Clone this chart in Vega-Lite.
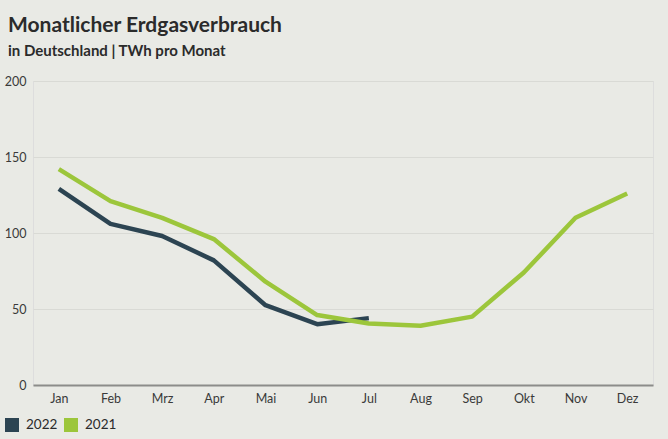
{
  "$schema": "https://vega.github.io/schema/vega-lite/v6.json",
  "width": 620,
  "height": 304,
  "autosize": {"type": "none"},
  "padding": {"left": 33, "top": 81, "right": 15, "bottom": 54},
  "background": "#e9eae5",
  "title": {
    "text": "Monatlicher Erdgasverbrauch",
    "subtitle": "in Deutschland | TWh pro Monat",
    "anchor": "start",
    "frame": "group",
    "dx": -25,
    "offset": 16,
    "font": "Lato",
    "fontSize": 21,
    "fontWeight": "bold",
    "color": "#2b2b2b",
    "subtitleFont": "Lato",
    "subtitleFontSize": 15,
    "subtitleFontWeight": "bold",
    "subtitleColor": "#2b2b2b",
    "subtitlePadding": 8
  },
  "data": {
    "values": [
      {"month": "Jan", "year": "2022", "value": 129},
      {"month": "Feb", "year": "2022", "value": 106},
      {"month": "Mrz", "year": "2022", "value": 98},
      {"month": "Apr", "year": "2022", "value": 82},
      {"month": "Mai", "year": "2022", "value": 52.5},
      {"month": "Jun", "year": "2022", "value": 40},
      {"month": "Jul", "year": "2022", "value": 44},
      {"month": "Jan", "year": "2021", "value": 142},
      {"month": "Feb", "year": "2021", "value": 121},
      {"month": "Mrz", "year": "2021", "value": 110},
      {"month": "Apr", "year": "2021", "value": 96},
      {"month": "Mai", "year": "2021", "value": 68},
      {"month": "Jun", "year": "2021", "value": 46},
      {"month": "Jul", "year": "2021", "value": 40.5},
      {"month": "Aug", "year": "2021", "value": 39},
      {"month": "Sep", "year": "2021", "value": 45},
      {"month": "Okt", "year": "2021", "value": 74},
      {"month": "Nov", "year": "2021", "value": 110},
      {"month": "Dez", "year": "2021", "value": 126}
    ]
  },
  "mark": {"type": "line", "strokeWidth": 4.5, "strokeJoin": "round"},
  "encoding": {
    "x": {
      "field": "month",
      "type": "ordinal",
      "sort": ["Jan", "Feb", "Mrz", "Apr", "Mai", "Jun", "Jul", "Aug", "Sep", "Okt", "Nov", "Dez"],
      "scale": {"type": "point", "padding": 0.5},
      "axis": {
        "title": null,
        "labelAngle": 0,
        "ticks": false,
        "grid": false,
        "domain": true,
        "domainColor": "#8c8c8a",
        "domainWidth": 2,
        "labelPadding": 7,
        "labelFont": "Lato",
        "labelFontSize": 12.5,
        "labelColor": "#3a3a3a"
      }
    },
    "y": {
      "field": "value",
      "type": "quantitative",
      "scale": {"domain": [0, 200]},
      "axis": {
        "title": null,
        "values": [0, 50, 100, 150, 200],
        "ticks": false,
        "domain": false,
        "grid": true,
        "gridColor": "#d9dad5",
        "gridWidth": 1,
        "labelPadding": 7,
        "labelFont": "Lato",
        "labelFontSize": 12.5,
        "labelColor": "#3a3a3a"
      }
    },
    "color": {
      "field": "year",
      "type": "nominal",
      "scale": {"domain": ["2022", "2021"], "range": ["#2c4452", "#9cc63b"]},
      "legend": {
        "title": null,
        "orient": "none",
        "direction": "horizontal",
        "legendX": -28,
        "legendY": 337,
        "symbolType": "square",
        "symbolSize": 196,
        "symbolStrokeWidth": 0,
        "columnPadding": 6,
        "labelFont": "Lato",
        "labelFontSize": 13.5,
        "labelColor": "#2b2b2b",
        "labelOffset": 7,
        "encode": {
          "symbols": {"update": {"fill": {"scale": "color", "field": "value"}, "fillOpacity": {"value": 1}}}
        }
      }
    }
  }
}
